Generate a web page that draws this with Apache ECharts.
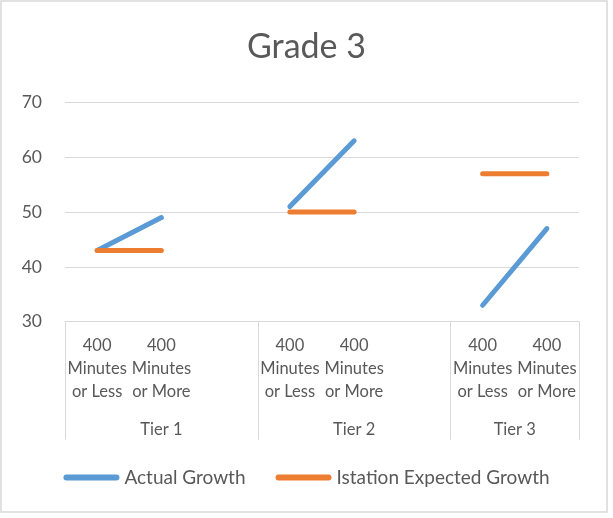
<!DOCTYPE html>
<html><head><meta charset="utf-8">
<script src="https://cdn.jsdelivr.net/npm/echarts@6/dist/echarts.min.js"></script>
<style>html,body{margin:0;padding:0;background:#fff}#c{width:613px;height:518px}</style>
</head><body><div id="c"></div>
<script>
const chartTitle = 'Grade 3';
const tiers = ['Tier 1', 'Tier 2', 'Tier 3'];
const tierSizes = [3, 3, 2];
const categories = ['400 Minutes or Less', '400 Minutes or More', '', '400 Minutes or Less', '400 Minutes or More', '', '400 Minutes or Less', '400 Minutes or More'];
const actualGrowth = [43, 49, null, 51, 63, null, 33, 47];
const expectedGrowth = [43, 43, null, 50, 50, null, 57, 57];
const yMin = 30, yMax = 70, yStep = 10;
const seriesNames = ['Actual Growth', 'Istation Expected Growth'];

const tierStarts = [];
const tierCenters = [];
let acc = 0;
tierSizes.forEach(s => { tierStarts.push(acc); tierCenters.push(acc + s / 2); acc += s; });
const totalCats = acc;

const FONT = 'Lato';
const TXT = '#595959';
const GRID = '#d9d9d9';
const capsule = 'path://M3,0 H53 A3,3 0 0 1 53,6 H3 A3,3 0 0 1 3,0 Z';

const chart = echarts.init(document.getElementById('c'), null, {renderer: 'canvas'});
chart.setOption({
  animation: false,
  backgroundColor: '#fff',
  title: {
    text: chartTitle, left: 'center', top: 30, padding: 0,
    textStyle: {fontFamily: FONT, fontSize: 34, fontWeight: 'normal', color: TXT}
  },
  grid: {left: 65, right: 34, top: 102.5, bottom: 196.3},
  legend: {
    data: seriesNames, left: 'center', top: 463, itemWidth: 56, itemHeight: 6, itemGap: 30,
    icon: capsule,
    textStyle: {fontFamily: FONT, fontSize: 19, color: TXT}
  },
  xAxis: [{
    type: 'category', data: categories, boundaryGap: true,
    axisLine: {show: true, lineStyle: {color: GRID, width: 1}},
    axisTick: {show: true, length: 118, interval: (i) => tierStarts.includes(i), lineStyle: {color: GRID, width: 1}},
    axisLabel: {
      interval: 0, margin: 12.5, fontFamily: FONT, fontSize: 16.5, lineHeight: 23, color: TXT,
      formatter: v => v.replace(' Minutes ', '\nMinutes\n')
    },
    splitLine: {show: false}
  }, {
    type: 'value', position: 'bottom', min: 0, max: totalCats,
    axisLine: {show: false}, axisTick: {show: false}, splitLine: {show: false},
    axisLabel: {
      customValues: tierCenters, margin: 99, fontFamily: FONT, fontSize: 16.5, color: TXT,
      formatter: v => tiers[tierCenters.indexOf(v)]
    }
  }],
  yAxis: {
    type: 'value', min: yMin, max: yMax, interval: yStep,
    axisLine: {show: false}, axisTick: {show: false},
    splitLine: {lineStyle: {color: GRID, width: 1}},
    axisLabel: {margin: 23, fontFamily: FONT, fontSize: 17.5, color: TXT}
  },
  graphic: [{
    type: 'rect', shape: {x: 1, y: 1, width: 606, height: 511},
    style: {fill: 'none', stroke: GRID, lineWidth: 1.5}, silent: true, z: -1
  }],
  series: [{
    name: seriesNames[0], type: 'line', data: actualGrowth, symbol: 'none', connectNulls: false,
    itemStyle: {color: '#5B9BD5'},
    lineStyle: {color: '#5B9BD5', width: 5, cap: 'round'}
  }, {
    name: seriesNames[1], type: 'line', data: expectedGrowth, symbol: 'none', connectNulls: false,
    itemStyle: {color: '#ED7D31'},
    lineStyle: {color: '#ED7D31', width: 5, cap: 'round'}
  }]
});
</script>
</body></html>
